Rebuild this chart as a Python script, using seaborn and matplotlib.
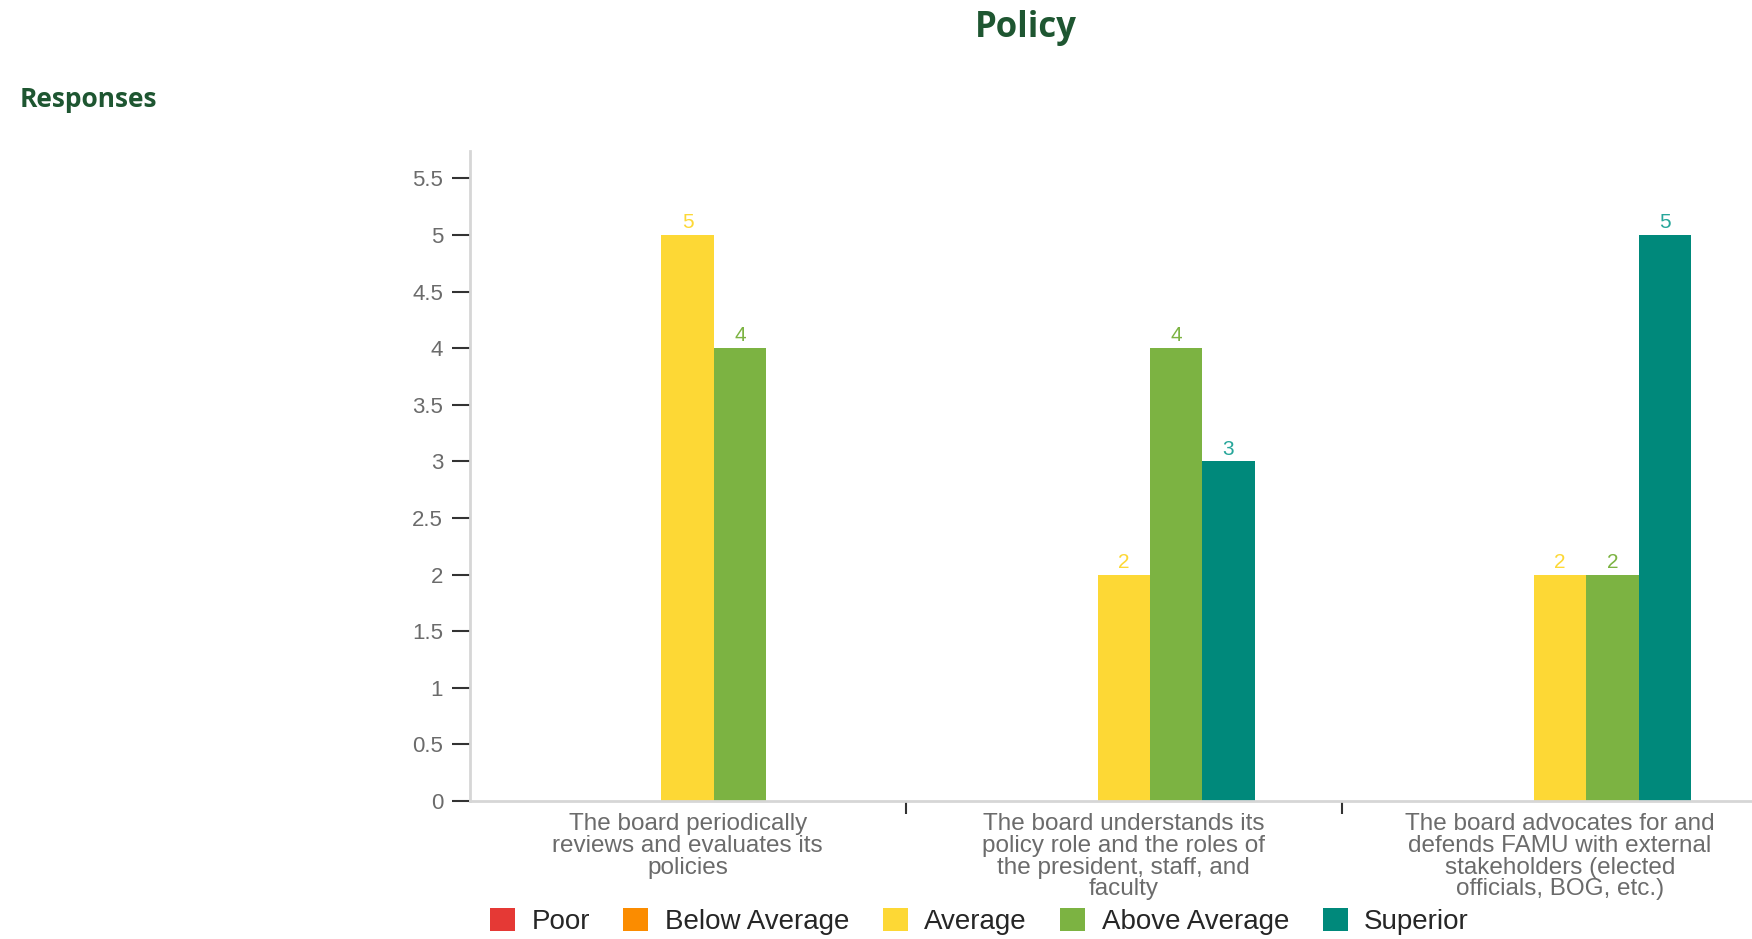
import matplotlib
matplotlib.use("Agg")
import matplotlib.pyplot as plt
from matplotlib.ticker import FixedLocator
import seaborn as sns
import pandas as pd

# Survey items (x categories) and response counts per rating level
items = [
    "The board periodically\nreviews and evaluates its\npolicies",
    "The board understands its\npolicy role and the roles of\nthe president, staff, and\nfaculty",
    "The board advocates for and\ndefends FAMU with external\nstakeholders (elected\nofficials, BOG, etc.)",
]
ratings = ["Poor", "Below Average", "Average", "Above Average", "Superior"]
poor = [0, 0, 0]
below_average = [0, 0, 0]
average = [5, 2, 2]
above_average = [4, 4, 2]
superior = [0, 3, 5]
y_ticks = [0, 0.5, 1, 1.5, 2, 2.5, 3, 3.5, 4, 4.5, 5, 5.5]

colors = {
    "Poor": "#E53935",
    "Below Average": "#FB8C00",
    "Average": "#FDD835",
    "Above Average": "#7CB342",
    "Superior": "#00897B",
}
label_colors = {
    "Poor": "#E53935",
    "Below Average": "#FB8C00",
    "Average": "#FDD835",
    "Above Average": "#7CB342",
    "Superior": "#26A69A",
}

series = [poor, below_average, average, above_average, superior]
df = pd.DataFrame(
    [(item, r, vals[i]) for r, vals in zip(ratings, series) for i, item in enumerate(items)],
    columns=["item", "rating", "count"],
)

sns.set_theme(style="white")
plt.rcParams["font.family"] = ["Liberation Sans", "DejaVu Sans"]

fig = plt.figure(figsize=(17.52, 9.39), dpi=100)
ax = fig.add_axes([0.268, 0.147, 0.732, 0.692])

sns.barplot(
    data=df, x="item", y="count", hue="rating",
    order=items, hue_order=ratings, palette=colors,
    width=0.6, saturation=1, linewidth=0, ax=ax,
)

# Value labels above each non-zero bar, coloured like the bar
for container, r in zip(ax.containers, ratings):
    vals = [p.get_height() for p in container]
    ax.bar_label(
        container,
        labels=[f"{v:g}" if v else "" for v in vals],
        color=label_colors[r], fontsize=15, padding=2,
    )

ax.set_ylim(0, 5.74)
ax.set_xlim(-0.5, 2.44)
ax.set_yticks(y_ticks)
ax.set_yticklabels([f"{t:g}" for t in y_ticks], color="#6b6b6b", fontsize=16)
ax.set_xticks(range(len(items)))
ax.set_xticklabels(items, color="#6b6b6b", fontsize=17.5, linespacing=0.98)
ax.xaxis.set_minor_locator(FixedLocator([0.5, 1.5]))
ax.tick_params(axis="x", which="major", length=0, pad=9)
ax.tick_params(axis="x", which="minor", length=9, width=1.5, color="#333333", direction="out", bottom=True)
ax.tick_params(axis="y", length=13, width=1.5, color="#333333", direction="out", left=True, pad=6)
ax.set_xlabel("")
ax.set_ylabel("")

for side in ("top", "right"):
    ax.spines[side].set_visible(False)
for side in ("left", "bottom"):
    ax.spines[side].set_color("#d6d6d6")
    ax.spines[side].set_linewidth(2)

sns.move_legend(
    ax, "center", bbox_to_anchor=(0.559, 0.019), bbox_transform=fig.transFigure,
    ncol=5, frameon=False, title=None, fontsize=20,
    handlelength=0.9, handleheight=0.9, handletextpad=0.6, columnspacing=1.2,
)

fig.text(0.5856, 0.970, "Policy", ha="center", va="center",
         fontsize=25, fontweight="bold", color="#1E5631", family=["Open Sans", "DejaVu Sans"])
fig.text(0.0114, 0.894, "Responses", ha="left", va="center",
         fontsize=19, fontweight="bold", color="#1E5631", family=["Open Sans", "DejaVu Sans"])

fig.savefig("out.png", dpi=100)
